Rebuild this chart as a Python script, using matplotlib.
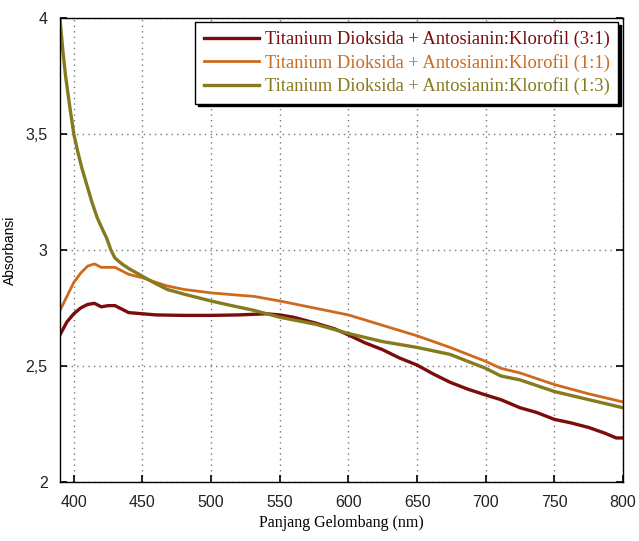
import matplotlib
matplotlib.use("Agg")
import matplotlib.pyplot as plt
from matplotlib.ticker import FuncFormatter

# Data
x_31 = [390, 395, 400, 405, 410, 415, 420, 425, 430, 435, 440, 450, 460, 480, 500, 520, 540,
        550, 560, 576, 590, 600, 612, 625, 637, 650, 662, 674, 687, 700, 711, 725, 737, 750,
        762, 775, 787, 795, 800]
y_31 = [2.635, 2.69, 2.725, 2.75, 2.765, 2.77, 2.755, 2.76, 2.76, 2.745, 2.73, 2.725, 2.72,
        2.718, 2.718, 2.72, 2.725, 2.72, 2.71, 2.685, 2.66, 2.634, 2.60, 2.57, 2.535, 2.504,
        2.465, 2.43, 2.40, 2.375, 2.355, 2.32, 2.30, 2.27, 2.255, 2.235, 2.21, 2.19, 2.19]

x_11 = [390, 395, 400, 405, 410, 415, 420, 425, 430, 435, 440, 450, 460, 468, 480, 500, 520,
        531, 550, 575, 600, 625, 650, 674, 700, 711, 725, 750, 775, 800]
y_11 = [2.74, 2.80, 2.86, 2.90, 2.93, 2.94, 2.925, 2.925, 2.925, 2.91, 2.895, 2.88, 2.86,
        2.845, 2.83, 2.815, 2.805, 2.80, 2.78, 2.75, 2.72, 2.675, 2.63, 2.58, 2.52, 2.49,
        2.47, 2.42, 2.38, 2.345]

x_13 = [390, 392, 394, 397, 400, 403, 406, 409, 413, 417, 420, 424, 427, 430, 435, 440, 449,
        458, 468, 480, 500, 515, 531, 550, 576, 600, 625, 650, 674, 700, 711, 725, 750, 775, 800]
y_13 = [3.99, 3.86, 3.75, 3.62, 3.50, 3.42, 3.35, 3.29, 3.21, 3.14, 3.10, 3.05, 3.00, 2.965,
        2.94, 2.92, 2.89, 2.86, 2.83, 2.81, 2.78, 2.76, 2.74, 2.71, 2.68, 2.64, 2.605, 2.58,
        2.55, 2.49, 2.457, 2.44, 2.39, 2.355, 2.32]

labels = ["Titanium Dioksida + Antosianin:Klorofil (3:1)",
          "Titanium Dioksida + Antosianin:Klorofil (1:1)",
          "Titanium Dioksida + Antosianin:Klorofil (1:3)"]
colors = ["#7a0c0c", "#cf6a1c", "#857a1e"]
xticks = [400, 450, 500, 550, 600, 650, 700, 750, 800]
yticks = [2, 2.5, 3, 3.5, 4]

fig = plt.figure(figsize=(6.39, 5.41), dpi=100)
ax = fig.add_axes([0.094, 0.109, 0.881, 0.858])

ax.plot(x_31, y_31, color=colors[0], lw=2.4, label=labels[0])
ax.plot(x_11, y_11, color=colors[1], lw=2.0, label=labels[1])
ax.plot(x_13, y_13, color=colors[2], lw=2.4, label=labels[2])

ax.set_xlim(390, 800)
ax.set_ylim(2, 4)
ax.set_xticks(xticks)
ax.set_yticks(yticks)
ax.yaxis.set_major_formatter(FuncFormatter(lambda v, p: ("%g" % v).replace(".", ",")))
ax.grid(True, color="#777777", linestyle=(0, (1, 3)), linewidth=1.0)
ax.tick_params(direction="in", length=5, width=1.2, top=False, right=True,
               labelsize=11.5, pad=9, labelcolor="#222222")
for lab in ax.get_xticklabels() + ax.get_yticklabels():
    lab.set_fontfamily("Liberation Sans")
for s in ax.spines.values():
    s.set_linewidth(1.0)

ax.set_xlabel("Panjang Gelombang (nm)", fontfamily="Liberation Serif", fontsize=11.5, labelpad=4)
ax.set_ylabel("Absorbansi", fontfamily="Liberation Sans", fontsize=10, labelpad=6)

leg = ax.legend(loc="upper right", bbox_to_anchor=(0.996, 0.997), fancybox=False,
                edgecolor="black", framealpha=1, handlelength=3.0, handletextpad=0.3,
                borderaxespad=0.15, labelspacing=0.3, borderpad=0.45,
                prop={"family": "Liberation Serif", "size": 13.3},
                shadow={"color": "black", "alpha": 1.0})
leg.get_frame().set_linewidth(1.0)
for t, c in zip(leg.get_texts(), colors):
    t.set_color(c)

fig.savefig("out.png", dpi=100)
